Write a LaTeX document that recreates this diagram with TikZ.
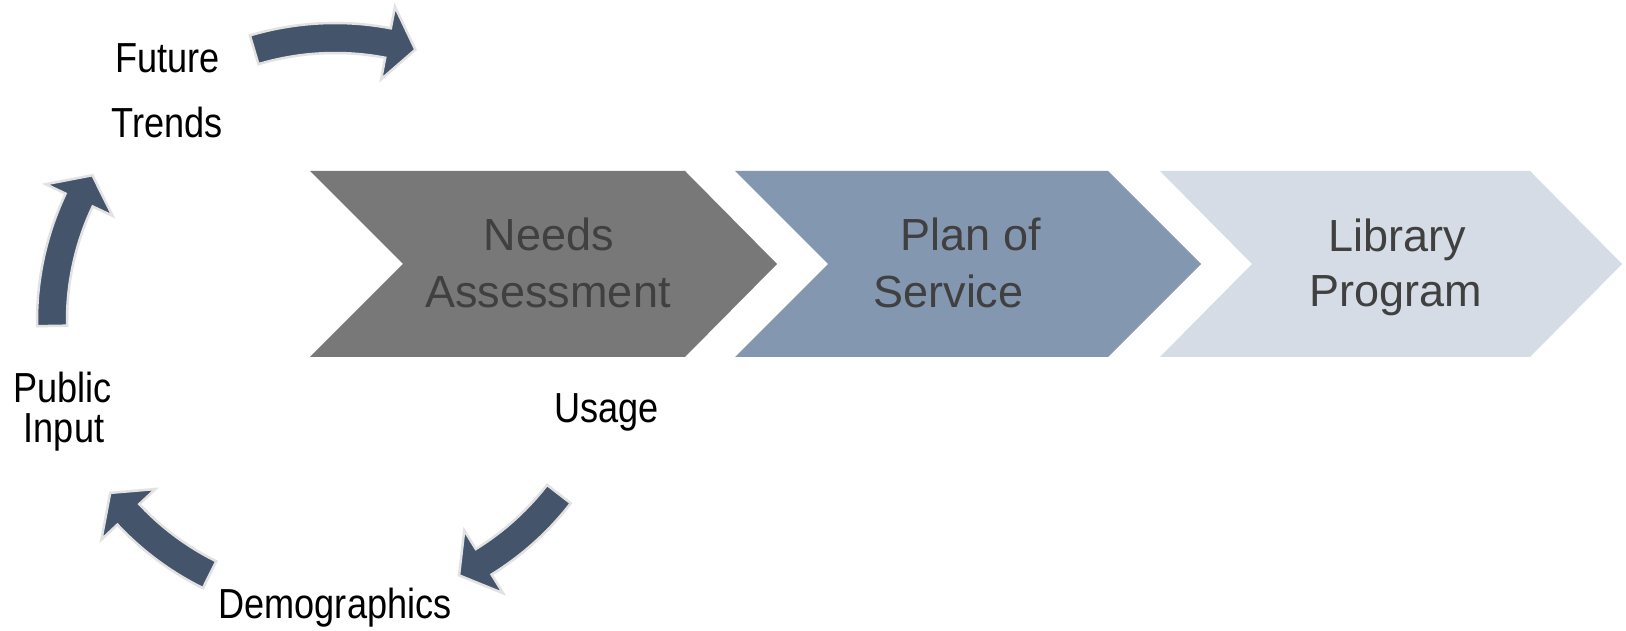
\documentclass[tikz,border=0pt]{standalone}
\usepackage{fontspec}
\setmainfont{Liberation Sans}
\newfontfamily\labelfont[FakeStretch=0.86]{Liberation Sans}
\usetikzlibrary{calc}
\definecolor{chevA}{HTML}{787878}
\definecolor{chevB}{HTML}{8497B0}
\definecolor{chevC}{HTML}{D6DCE5}
\definecolor{arrowfill}{HTML}{44546A}
\definecolor{arrowline}{HTML}{E2E2E2}
\definecolor{chevtext}{HTML}{404040}
\newcommand\cycarrow[2]{% tail angle, tip angle
  \pgfmathsetmacro\hb{#2+5.7}%
  \path[cycarrowstyle] ($(C)+(#1:298pt)$) arc[start angle=#1, end angle=\hb, radius=298pt]
    -- ($(C)+(\hb:320pt)$) -- ($(C)+(#2:283pt)$) -- ($(C)+(\hb:246pt)$)
    -- ($(C)+(\hb:268pt)$) arc[start angle=\hb, end angle=#1, radius=268pt] -- cycle;}
\begin{document}
\begin{tikzpicture}[x=1pt,y=1pt,
  chevtxt/.style={font=\fontsize{45}{54}\selectfont, text=chevtext, anchor=base, inner sep=0pt},
  cyctxt/.style={font=\labelfont\fontsize{42}{48}\selectfont, text=black, anchor=base, inner sep=0pt},
  cycarrowstyle/.style={fill=arrowfill, draw=arrowline, line width=2.5pt, line join=miter}]
\useasboundingbox (0,0) rectangle (1626,631);
\fill[white] (0,0) rectangle (1626,631);
\coordinate (C) at (335,310);
% chevrons
\fill[chevA] (310,460) -- (685,460) -- (777,367) -- (685,274) -- (310,274) -- (403,367) -- cycle;
\fill[chevB] (735,460) -- (1108,460) -- (1201,367) -- (1108,274) -- (735,274) -- (828,367) -- cycle;
\fill[chevC] (1160,460) -- (1530,460) -- (1622,367) -- (1530,274) -- (1160,274) -- (1252,367) -- cycle;
\node[chevtxt] (na1) at (549,380) {Needs};
\node[chevtxt] (na2) at (548,323) {Assessment};
\node[chevtxt] (ps1) at (971,380) {Plan of};
\node[chevtxt] (ps2) at (948.5,323) {Service};
\node[chevtxt] (lp1) at (1397,379) {Library};
\node[chevtxt] (lp2) at (1396,324) {Program};
% cycle arrows
\cycarrow{106.6}{73.5}
\cycarrow{-37.7}{-64}
\cycarrow{243.7}{217.4}
\cycarrow{181}{149}
% cycle labels
\node[cyctxt] (ft1) at (167.5,558) {Future};
\node[cyctxt] (ft2) at (167,493) {Trends};
\node[cyctxt] (pi1) at (62.5,228) {Public};
\node[cyctxt] (pi2) at (64,188) {Input};
\node[cyctxt] (us) at (606.5,208) {Usage};
\node[cyctxt] (dm) at (335,12) {Demographics};
\end{tikzpicture}
\end{document}
